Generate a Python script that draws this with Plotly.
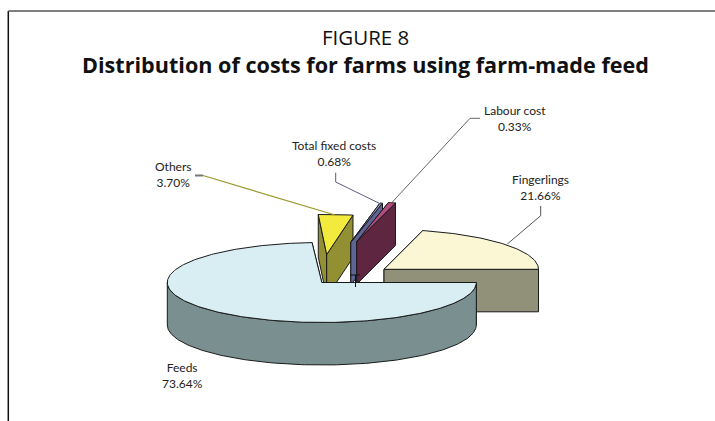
import math
import plotly.graph_objects as go

labels = ["Feeds", "Others", "Total fixed costs", "Labour cost", "Fingerlings"]
values = [73.64, 3.70, 0.68, 0.33, 21.66]
top_colors = ["#D8EEF3", "#F2EA3C", "#9DA1CF", "#B04D7C", "#FBF7D5"]
side_colors = ["#7A9090", "#929032", "#5F6496", "#5E2640", "#919079"]

# geometry of the tilted, exploded pie (pixel-like axis units)
RX, RY, DEPTH = 154.5, 40.0, 42.5
centers = [(321.8, 282.5), (326.7, 254.5), (350.8, 242.3), (356.7, 241.7), (384.0, 269.3)]
nudges = [(0, 1.3), (1.8, 1.4), (2.5, 1.0), (1.0, 2.5), (2.5, 0)]
draw_order = [1, 2, 3, 4, 0]
FONT = "Lato"

total = sum(values)
spans, a = [], 0.0
for v in values:
    spans.append((a, a + 360 * v / total))
    a += 360 * v / total


def pt(c, deg, drop=0.0):
    r = math.radians(deg)
    return c[0] + RX * math.cos(r), c[1] + RY * math.sin(r) + drop


def arc(c, a0, a1, drop=0.0):
    n = max(2, int(abs(a1 - a0)) + 1)
    return [pt(c, a0 + (a1 - a0) * i / n, drop) for i in range(n + 1)]


fig = go.Figure()


def poly(points, fill):
    fig.add_trace(go.Scatter(
        x=[p[0] for p in points] + [points[0][0]],
        y=[p[1] for p in points] + [points[0][1]],
        mode="lines", fill="toself", fillcolor=fill,
        line=dict(color="#1a1a1a", width=1), hoverinfo="skip", showlegend=False))


for i in draw_order:
    c = centers[i]
    a0 = spans[i][0] + nudges[i][0]
    a1 = spans[i][1] + nudges[i][1]
    side = side_colors[i]
    low = (c[0], c[1] + DEPTH)
    poly([c, pt(c, a0), pt(c, a0, DEPTH), low], side)
    poly([c, pt(c, a1), pt(c, a1, DEPTH), low], side)
    s0, s1 = max(a0, 0), min(a1, 180)
    if s1 > s0:
        poly(arc(c, s0, s1) + arc(c, s1, s0, DEPTH), side)
    poly([c] + arc(c, a0, a1), top_colors[i])

leaders = [
    ("M195,175.5 L203,175.5", "#777777", 2),
    ("M203,175.5 L335,215", "#9A9628", 1.2),
    ("M335.7,172.7 L335.7,182 L380.7,204", "#5A5A8A", 1),
    ("M480,118.3 L470,118.3 L391.7,202.7", "#666666", 1),
    ("M540.7,206 L540.7,215.7 L507.3,244", "#555555", 1),
    ("M350,275 L360,275 M355.5,275 L355.5,287", "#111111", 1),
    ("M8.3,421 L8.3,11", "#111111", 1.5),
    ("M8.3,11 L715,11", "#555555", 1.5),
]
shapes = [dict(type="path", path=p, xref="x", yref="y", line=dict(color=col, width=w), layer="above")
          for p, col, w in leaders]

label_pos = {
    "Feeds": (182, 375.7),
    "Others": (173, 174.7),
    "Total fixed costs": (334, 153.7),
    "Labour cost": (515, 118.5),
    "Fingerlings": (540, 187.3),
}
ann = []
for name, v in zip(labels, values):
    x, y = label_pos[name]
    ann.append(dict(x=x, y=y, xref="x", yref="y", showarrow=False, align="center",
                    text=f"{name}<br>{v:.2f}%", font=dict(family=FONT, size=12, color="#222222")))
ann.append(dict(x=365.5, y=37, xref="x", yref="y", showarrow=False, text="FIGURE 8",
                font=dict(family="Open Sans", size=20.5, color="#111111")))
ann.append(dict(x=365.5, y=64, xref="x", yref="y", showarrow=False,
                text="<b>Distribution of costs for farms using farm-made feed</b>",
                font=dict(family="Open Sans", size=21.6, color="#111111")))

fig.update_layout(
    width=715, height=421, margin=dict(l=0, r=0, t=0, b=0),
    paper_bgcolor="white", plot_bgcolor="white", showlegend=False,
    xaxis=dict(range=[0, 715], visible=False, fixedrange=True),
    yaxis=dict(range=[421, 0], visible=False, fixedrange=True),
    shapes=shapes, annotations=ann)
fig.write_html("out.html", config={"displayModeBar": False},
               post_script="document.body.style.margin='0';")
